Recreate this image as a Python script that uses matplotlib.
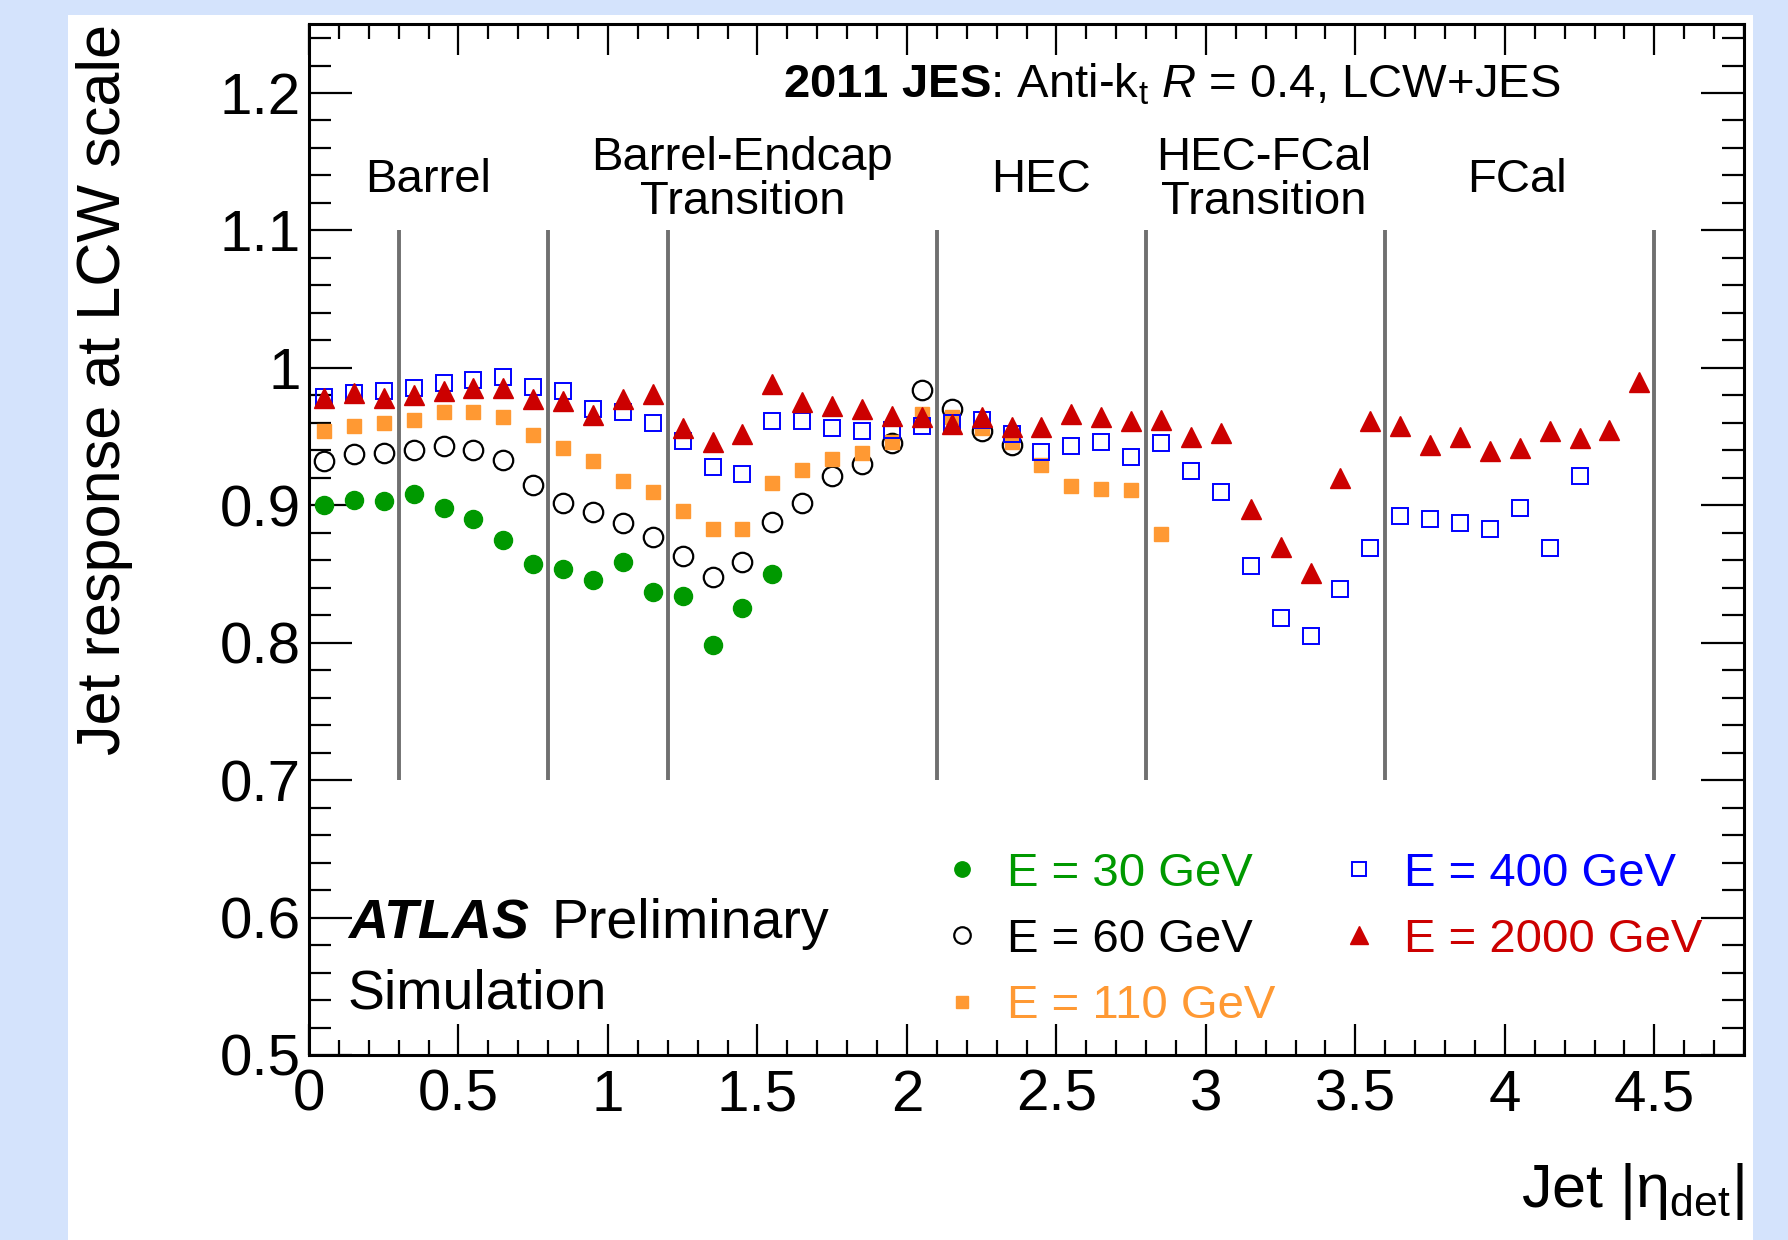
import matplotlib
matplotlib.use("Agg")
import matplotlib.pyplot as plt
from matplotlib.patches import Rectangle
from matplotlib.ticker import MultipleLocator

plt.rcParams['font.family'] = ['Liberation Sans', 'DejaVu Sans']
plt.rcParams['mathtext.fontset'] = 'custom'
plt.rcParams['mathtext.rm'] = 'Liberation Sans'
plt.rcParams['mathtext.it'] = 'Liberation Sans:italic'
plt.rcParams['mathtext.bf'] = 'Liberation Sans:bold'
plt.rcParams['mathtext.sf'] = 'Liberation Sans'

# ---------------- data ----------------
eta = [0.05, 0.15, 0.25, 0.35, 0.45, 0.55, 0.65, 0.75, 0.85, 0.95,
       1.05, 1.15, 1.25, 1.35, 1.45, 1.55, 1.65, 1.75, 1.85, 1.95,
       2.05, 2.15, 2.25, 2.35, 2.45, 2.55, 2.65, 2.75, 2.85, 2.95,
       3.05, 3.15, 3.25, 3.35, 3.45, 3.55, 3.65, 3.75, 3.85, 3.95,
       4.05, 4.15, 4.25, 4.35, 4.45]

resp_30 = [0.900, 0.904, 0.903, 0.908, 0.898, 0.890, 0.875, 0.857, 0.854, 0.846,
           0.859, 0.837, 0.834, 0.798, 0.825, 0.850]
resp_60 = [0.932, 0.937, 0.938, 0.940, 0.943, 0.940, 0.933, 0.915, 0.902, 0.895,
           0.887, 0.877, 0.863, 0.848, 0.859, 0.888, 0.902, 0.921, 0.930, 0.945,
           0.984, 0.970, 0.954, 0.944]
resp_110 = [0.954, 0.958, 0.960, 0.962, 0.968, 0.968, 0.964, 0.951, 0.9415, 0.932,
            0.918, 0.910, 0.896, 0.883, 0.883, 0.916, 0.926, 0.934, 0.938, 0.946,
            0.9665, 0.964, 0.956, 0.946, 0.929, 0.914, 0.912, 0.911, 0.879]
resp_400 = [0.979, 0.982, 0.983, 0.985, 0.989, 0.9915, 0.993, 0.986, 0.983, 0.970,
            0.968, 0.960, 0.947, 0.928, 0.923, 0.961, 0.961, 0.956, 0.954, 0.955,
            0.958, 0.960, 0.962, 0.952, 0.939, 0.943, 0.946, 0.935, 0.945, 0.925,
            0.9095, 0.856, 0.818, 0.805, 0.839, 0.869, 0.892, 0.890, 0.887, 0.883,
            0.898, 0.869, 0.921]
resp_2000 = [0.978, 0.9816, 0.978, 0.980, 0.983, 0.985, 0.985, 0.977, 0.976, 0.966,
             0.977, 0.981, 0.956, 0.946, 0.952, 0.988, 0.975, 0.9726, 0.970, 0.965,
             0.964, 0.9595, 0.964, 0.957, 0.957, 0.9665, 0.964, 0.961, 0.962, 0.950,
             0.9526, 0.897, 0.870, 0.8505, 0.9197, 0.961, 0.958, 0.944, 0.950, 0.9395,
             0.9415, 0.954, 0.949, 0.955, 0.9896]

labels = ["E = 30 GeV", "E = 60 GeV", "E = 110 GeV", "E = 400 GeV", "E = 2000 GeV"]
boundaries = [0.3, 0.8, 1.2, 2.1, 2.8, 3.6, 4.5]
regions = ["Barrel", "Barrel-Endcap\nTransition", "HEC", "HEC-FCal\nTransition", "FCal"]
region_x = [0.397, 1.45, 2.447, 3.195, 4.04]

# ---------------- figure ----------------
fig = plt.figure(figsize=(17.88, 12.40), dpi=100, facecolor='#d4e3fc')
fig.patches.append(Rectangle((68/1788, 0), (1753-68)/1788, (1240-15)/1240,
                             transform=fig.transFigure, facecolor='white',
                             edgecolor='none', zorder=-10))
ax = fig.add_axes([309/1788, 1-1055/1240, (1744-309)/1788, (1055-24.3)/1240])
ax.set_zorder(1)
ax.set_facecolor('white')

ax.vlines(boundaries, 0.7, 1.1, colors='#707070', lw=2.8, zorder=1)

green, orange, blue, red = '#009900', '#ff9933', '#0000ff', '#cc0000'
ax.plot(eta[:len(resp_30)], resp_30, 'o', color=green, ms=13, mec=green, ls='none',
        label=labels[0], zorder=3)
ax.plot(eta[:len(resp_60)], resp_60, 'o', mfc='none', mec='black', mew=1.6, ms=14,
        ls='none', label=labels[1], zorder=3)
ax.plot(eta[:len(resp_110)], resp_110, 's', color=orange, mec=orange, ms=10.5,
        ls='none', label=labels[2], zorder=3)
ax.plot(eta[:len(resp_400)], resp_400, 's', mfc='none', mec=blue, mew=1.4, ms=11.5,
        ls='none', label=labels[3], zorder=3)
ax.plot(eta[:len(resp_2000)], resp_2000, '^', color=red, mec=red, ms=15,
        ls='none', label=labels[4], zorder=3)

ax.set_xlim(0, 4.8)
ax.set_ylim(0.5, 1.25)

for sp in ax.spines.values():
    sp.set_linewidth(2.2)
ax.xaxis.set_major_locator(MultipleLocator(0.5))
ax.xaxis.set_minor_locator(MultipleLocator(0.1))
ax.yaxis.set_major_locator(MultipleLocator(0.1))
ax.yaxis.set_minor_locator(MultipleLocator(0.02))
fmt = matplotlib.ticker.FuncFormatter(lambda v, p: ('%g' % round(v, 3)))
ax.xaxis.set_major_formatter(fmt)
ax.yaxis.set_major_formatter(fmt)
ax.tick_params(which='both', direction='in', top=True, right=True, width=1.6)
ax.tick_params(axis='x', which='major', length=22, labelsize=42, pad=10)
ax.tick_params(axis='x', which='minor', length=11)
ax.tick_params(axis='y', which='major', length=31, labelsize=42, pad=6)
ax.tick_params(axis='y', which='minor', length=15.5)

ax.set_ylabel('Jet response at LCW scale', fontsize=44, loc='top')
ax.yaxis.set_label_coords(-0.1226, 1.0)
ax.set_xlabel(r'Jet $|\mathrm{\eta}_{\mathrm{det}}|$', fontsize=44, loc='right')
ax.xaxis.set_label_coords(1.0, -0.103)

# title line
ax.text(2.886, 1.206, r'$\mathbf{2011\ JES}$: Anti-k$_{\mathrm{t}}$ $R$ = 0.4, LCW+JES',
        fontsize=34, ha='center', va='center')
# region labels
for name, xr in zip(regions, region_x):
    ax.text(xr, 1.137, name, fontsize=34, ha='center', va='center',
            linespacing=1.0)

# ATLAS label
ax.text(0.13, 0.595, 'ATLAS', fontsize=40, fontweight='bold', fontstyle='italic',
        ha='left', va='center')
ax.text(0.81, 0.595, 'Preliminary', fontsize=40, ha='left', va='center')
ax.text(0.13, 0.544, 'Simulation', fontsize=40, ha='left', va='center')

leg = ax.legend(loc='lower left', bbox_to_anchor=(0.4417, 0.026), ncol=2,
                frameon=False, fontsize=34, handlelength=0.8, handletextpad=0.55,
                columnspacing=1.39, labelspacing=0.47, markerscale=0.85,
                borderpad=0, borderaxespad=0, numpoints=1)
for txt, c in zip(leg.get_texts(), [green, 'black', orange, blue, red]):
    txt.set_color(c)

fig.savefig('out.png', dpi=100, facecolor=fig.get_facecolor())
